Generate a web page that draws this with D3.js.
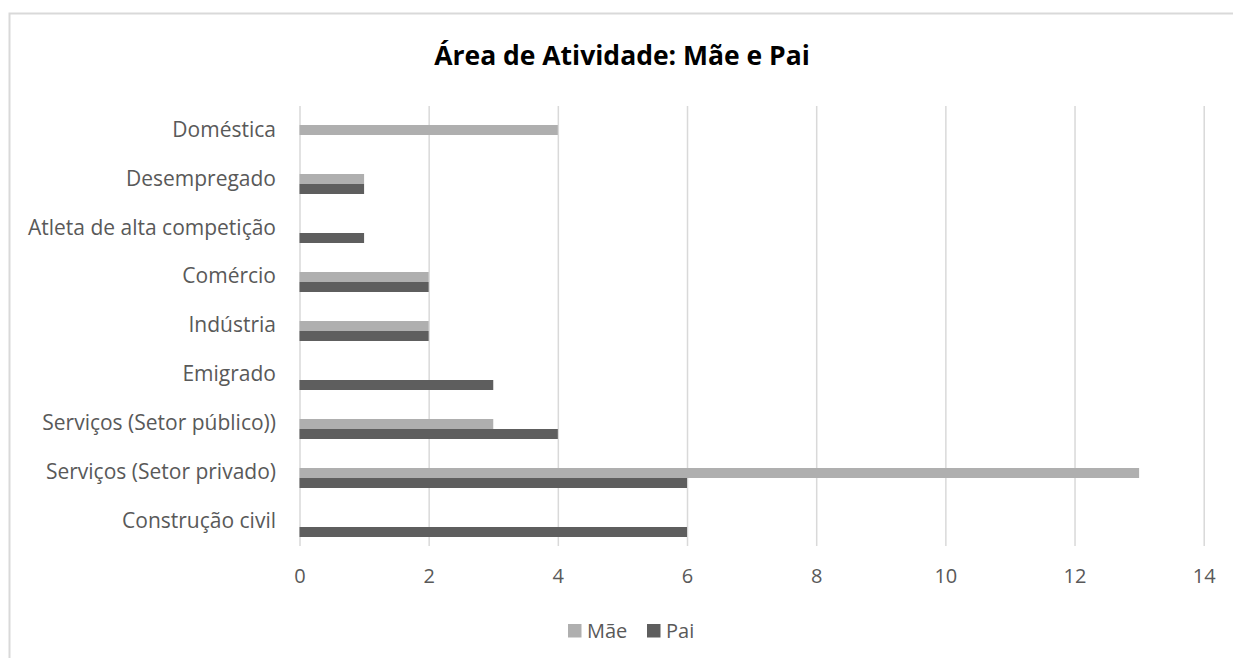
<!DOCTYPE html>
<html>
<head>
<meta charset="utf-8">
<script src="https://cdn.jsdelivr.net/npm/d3@7"></script>
<style>
  body { margin: 0; background: #fff; }
  text { font-family: "Open Sans", "Noto Sans", sans-serif; }
</style>
</head>
<body>
<svg id="chart" width="1233" height="658"></svg>
<script>
// categories, top to bottom
var categories = ["Doméstica", "Desempregado", "Atleta de alta competição", "Comércio",
  "Indústria", "Emigrado", "Serviços (Setor público))", "Serviços (Setor privado)", "Construção civil"];
var maeValues = [4, 1, 0, 2, 2, 0, 3, 13, 0];
var paiValues = [0, 1, 1, 2, 2, 3, 4, 6, 6];
var seriesNames = ["Mãe", "Pai"];
var xTicks = [0, 2, 4, 6, 8, 10, 12, 14];

var colors = { "Mãe": "#afafaf", "Pai": "#5e5e5e" };

var svg = d3.select("#chart");

// chart border (the right/bottom edges lie off the picture)
svg.append("rect")
  .attr("x", 9.5).attr("y", 13.5)
  .attr("width", 1400).attr("height", 800)
  .attr("fill", "#fff")
  .attr("stroke", "#d9d9d9")
  .attr("stroke-width", 2);

var x = d3.scaleLinear().domain([0, 14]).range([299.5, 1203.7]);

// label band follows gridlines, bar band sits slightly lower (as in the source)
var yLab = d3.scaleBand().domain(categories).range([106, 546]);
var yBar = d3.scaleBand().domain(categories).range([110.5, 551.5]);
var barH = 10;

// gridlines + x labels
var xAxis = d3.axisBottom(x).tickValues(xTicks).tickSize(-(546 - 106)).tickPadding(23);
var gx = svg.append("g").attr("transform", "translate(0,546)").call(xAxis);
gx.select(".domain").remove();
gx.selectAll(".tick line").attr("stroke", "#d9d9d9").attr("stroke-width", 1.5);
gx.selectAll(".tick text")
  .attr("fill", "#595959")
  .style("font-size", "20px");

// category labels
svg.append("g").selectAll("text")
  .data(categories)
  .join("text")
  .attr("x", 276)
  .attr("y", function(d) { return yLab(d) + yLab.bandwidth() / 2; })
  .attr("dy", "0.3em")
  .attr("text-anchor", "end")
  .attr("fill", "#595959")
  .style("font-size", "21px")
  .text(function(d) { return d; });

// bars
var rows = [];
categories.forEach(function(c, i) {
  rows.push({ cat: c, s: "Mãe", v: maeValues[i], off: -barH });
  rows.push({ cat: c, s: "Pai", v: paiValues[i], off: 0 });
});

svg.append("g").selectAll("rect")
  .data(rows.filter(function(d) { return d.v > 0; }))
  .join("rect")
  .attr("x", x(0))
  .attr("y", function(d) { return yBar(d.cat) + yBar.bandwidth() / 2 + d.off; })
  .attr("width", function(d) { return x(d.v) - x(0); })
  .attr("height", barH)
  .attr("fill", function(d) { return colors[d.s]; });

// title
svg.append("text")
  .attr("x", 622).attr("y", 65)
  .attr("text-anchor", "middle")
  .attr("fill", "#000")
  .style("font-size", "26.5px")
  .style("font-weight", "bold")
  .text("Área de Atividade: Mãe e Pai");

// legend
var legX = [568, 647];
var leg = svg.append("g").selectAll("g")
  .data(seriesNames)
  .join("g")
  .attr("transform", function(d, i) { return "translate(" + legX[i] + ",624)"; });
leg.append("rect")
  .attr("width", 13.5).attr("height", 13.5)
  .attr("fill", function(d) { return colors[d]; });
leg.append("text")
  .attr("x", 19).attr("y", 7)
  .attr("dy", "0.35em")
  .attr("fill", "#595959")
  .style("font-size", "20px")
  .text(function(d) { return d; });
</script>
</body>
</html>
